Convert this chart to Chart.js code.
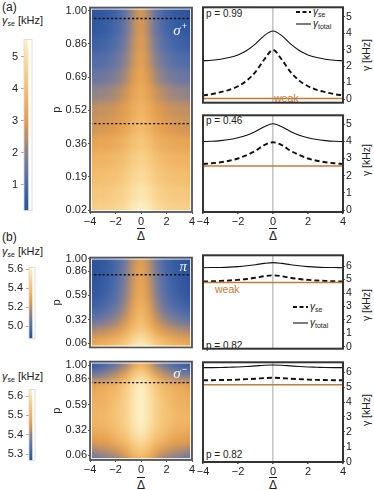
<!DOCTYPE html>
<html lang="en">
<head>
<meta charset="UTF-8">
<title>Spin-exchange broadening maps</title>
<script src="https://cdn.jsdelivr.net/npm/chart.js@4.4.0/dist/chart.umd.min.js"></script>
<style>
  body { margin: 0; background: #fff; }
  #fig { position: relative; width: 374px; height: 490px; overflow: hidden;
         font-family: "Liberation Sans", Arial, sans-serif; color: #222; }
  #fig canvas { position: absolute; }
  .lbl { position: absolute; white-space: nowrap; line-height: 1; font-size: 10px; }
  .lbl sub { font-size: 7px; vertical-align: -2px; line-height: 0; }
  .weak { color: #c07d3a; font-size: 10.5px; }
  .ytl { transform: translate(-50%, -50%) rotate(-90deg); font-size: 10.5px; }
  .dl { transform: translateX(-50%); font-size: 12px; text-decoration: overline; }
  .leg svg { vertical-align: middle; margin-right: 2px; }
</style>
</head>
<body>
<div id="fig">
  <div class="lbl" style="left:2px;top:1px;font-size:12px">(a)</div>
  <div class="lbl" style="left:2px;top:15px;font-size:11px"><i>γ</i><sub>se</sub> [kHz]</div>
  <div class="lbl" style="left:2px;top:231px;font-size:12px">(b)</div>
  <div class="lbl" style="left:2px;top:246px;font-size:11px"><i>γ</i><sub>se</sub> [kHz]</div>
  <div class="lbl" style="left:2px;top:371px;font-size:11px"><i>γ</i><sub>se</sub> [kHz]</div>

  <div class="lbl" style="left:206px;top:9px">p = 0.99</div>
  <div class="lbl" style="left:206px;top:116px">p = 0.46</div>
  <div class="lbl" style="left:206px;top:341px">p = 0.82</div>
  <div class="lbl" style="left:206px;top:450px">p = 0.82</div>
  <div class="lbl weak" style="left:274px;top:93px">weak</div>
  <div class="lbl weak" style="left:215px;top:284px">weak</div>

  <div class="lbl leg" style="left:296px;top:7px"><svg width="15" height="4"><line x1="0" y1="2" x2="15" y2="2" stroke="#111" stroke-width="1.8" stroke-dasharray="4,2.5"/></svg><i>γ</i><sub>se</sub></div>
  <div class="lbl leg" style="left:296px;top:19px"><svg width="15" height="4"><line x1="0" y1="2" x2="15" y2="2" stroke="#111" stroke-width="1.1"/></svg><i>γ</i><sub>total</sub></div>
  <div class="lbl leg" style="left:293px;top:302px"><svg width="15" height="4"><line x1="0" y1="2" x2="15" y2="2" stroke="#111" stroke-width="1.8" stroke-dasharray="4,2.5"/></svg><i>γ</i><sub>se</sub></div>
  <div class="lbl leg" style="left:293px;top:318px"><svg width="15" height="4"><line x1="0" y1="2" x2="15" y2="2" stroke="#111" stroke-width="1.1"/></svg><i>γ</i><sub>total</sub></div>

  <div class="lbl ytl" style="left:366px;top:55px">γ [kHz]</div>
  <div class="lbl ytl" style="left:366px;top:160px">γ [kHz]</div>
  <div class="lbl ytl" style="left:366px;top:305px">γ [kHz]</div>
  <div class="lbl ytl" style="left:366px;top:410px">γ [kHz]</div>

  <div class="lbl dl" style="left:141px;top:230px">Δ</div>
  <div class="lbl dl" style="left:273px;top:230px">Δ</div>
  <div class="lbl dl" style="left:141px;top:479px">Δ</div>
  <div class="lbl dl" style="left:273px;top:479px">Δ</div>
</div>

<script>
// ---- data ----
const deltas = [-4, -3.5, -3, -2.5, -2, -1.5, -1, -0.5, 0, 0.5, 1, 1.5, 2, 2.5, 3, 3.5, 4];

// line cuts, gamma in kHz at each delta
const seA1  = [0.22, 0.3, 0.42, 0.56, 0.78, 1.12, 1.65, 2.4, 2.98, 2.4, 1.65, 1.12, 0.78, 0.56, 0.42, 0.3, 0.22];
const totA1 = [2.32, 2.36, 2.42, 2.52, 2.68, 2.95, 3.35, 3.85, 4.13, 3.85, 3.35, 2.95, 2.68, 2.52, 2.42, 2.36, 2.32];
const weakA1 = 0.04;
const seA2  = [2.68, 2.72, 2.78, 2.87, 3.0, 3.2, 3.45, 3.78, 3.94, 3.78, 3.45, 3.2, 3.0, 2.87, 2.78, 2.72, 2.68];
const totA2 = [3.98, 4.0, 4.04, 4.1, 4.2, 4.35, 4.57, 4.85, 5.02, 4.85, 4.57, 4.35, 4.2, 4.1, 4.04, 4.0, 3.98];
const weakA2 = 2.57;
const seB1  = [4.86, 4.87, 4.9, 4.93, 4.98, 5.04, 5.13, 5.25, 5.31, 5.25, 5.13, 5.04, 4.98, 4.93, 4.9, 4.87, 4.86];
const totB1 = [5.88, 5.89, 5.9, 5.92, 5.96, 6.02, 6.1, 6.2, 6.26, 6.2, 6.1, 6.02, 5.96, 5.92, 5.9, 5.89, 5.88];
const weakB1 = 4.78;
const seB2  = [5.46, 5.46, 5.47, 5.48, 5.5, 5.53, 5.56, 5.6, 5.63, 5.6, 5.56, 5.53, 5.5, 5.48, 5.47, 5.46, 5.46];
const totB2 = [6.3, 6.3, 6.31, 6.33, 6.35, 6.38, 6.42, 6.46, 6.48, 6.46, 6.42, 6.38, 6.35, 6.33, 6.31, 6.3, 6.3];
const weakB2 = 5.16;
const gammaTicksA = [0, 1, 2, 3, 4, 5];
const gammaTicksB = [0, 1, 2, 3, 4, 5, 6];

// maps: rows are symmetric in delta, values given for delta = 0, 0.5, ... 4
// (a) sigma+ : rows on the tick index axis (0 -> p 0.02 ... 6 -> p 1.00)
const pTickLabelsA = ['0.02', '0.19', '0.36', '0.52', '0.69', '0.86', '1.00'];
const rowsA = [0, 0.5, 1, 1.5, 2, 2.5, 3, 3.5, 4, 4.5, 5, 5.5, 6];
const mapA = [
  [5.5, 5.29, 5.0, 4.8, 4.66, 4.58, 4.52, 4.49, 4.45],
  [5.25, 5.04, 4.75, 4.55, 4.41, 4.33, 4.27, 4.24, 4.2],
  [4.95, 4.74, 4.45, 4.25, 4.11, 4.03, 3.97, 3.94, 3.9],
  [4.65, 4.44, 4.15, 3.95, 3.81, 3.73, 3.67, 3.64, 3.6],
  [4.3, 4.08, 3.77, 3.56, 3.42, 3.33, 3.28, 3.24, 3.2],
  [3.97, 3.72, 3.37, 3.13, 2.97, 2.87, 2.81, 2.76, 2.72],
  [3.75, 3.5, 3.15, 2.91, 2.75, 2.65, 2.59, 2.54, 2.5],
  [3.55, 3.24, 2.81, 2.51, 2.31, 2.19, 2.11, 2.05, 2.0],
  [3.35, 2.97, 2.44, 2.08, 1.83, 1.68, 1.58, 1.52, 1.45],
  [3.2, 2.76, 2.14, 1.73, 1.44, 1.26, 1.15, 1.08, 1.0],
  [3.1, 2.6, 1.9, 1.43, 1.1, 0.9, 0.78, 0.69, 0.6],
  [3.0, 2.46, 1.71, 1.2, 0.86, 0.64, 0.51, 0.41, 0.32],
  [2.95, 2.4, 1.63, 1.11, 0.75, 0.53, 0.39, 0.3, 0.2]
];
const cutsA = [5.76, 2.6];          // p = 0.99 and p = 0.46 on the index axis
const barA = [0.19, 5.54];
const barTicksA = [1, 2, 3, 4, 5];

// (b) pi and sigma- : rows in p
const pTicksB = [0.06, 0.32, 0.59, 0.86, 1.0];
const rowsB = [0.02, 0.1, 0.2, 0.3, 0.4, 0.5, 0.6, 0.7, 0.8, 0.9, 1.0];
const mapPi = [
  [5.61, 5.57, 5.49, 5.44, 5.4, 5.37, 5.35, 5.33, 5.32],
  [5.55, 5.51, 5.43, 5.38, 5.34, 5.31, 5.29, 5.27, 5.26],
  [5.46, 5.41, 5.34, 5.27, 5.23, 5.2, 5.18, 5.17, 5.15],
  [5.41, 5.35, 5.26, 5.19, 5.14, 5.1, 5.08, 5.06, 5.04],
  [5.38, 5.32, 5.22, 5.13, 5.08, 5.04, 5.01, 4.99, 4.97],
  [5.35, 5.29, 5.18, 5.09, 5.03, 4.99, 4.96, 4.94, 4.92],
  [5.33, 5.26, 5.15, 5.07, 5.0, 4.96, 4.93, 4.91, 4.89],
  [5.32, 5.25, 5.14, 5.05, 4.99, 4.95, 4.92, 4.89, 4.87],
  [5.31, 5.24, 5.13, 5.04, 4.98, 4.94, 4.91, 4.88, 4.86],
  [5.29, 5.23, 5.12, 5.03, 4.97, 4.93, 4.9, 4.88, 4.86],
  [5.27, 5.21, 5.11, 5.02, 4.97, 4.93, 4.9, 4.88, 4.86]
];
const mapSm = [
  [5.51, 5.49, 5.45, 5.41, 5.39, 5.38, 5.37, 5.36, 5.35],
  [5.55, 5.53, 5.49, 5.46, 5.44, 5.43, 5.42, 5.41, 5.4],
  [5.59, 5.57, 5.53, 5.51, 5.49, 5.47, 5.46, 5.46, 5.45],
  [5.62, 5.6, 5.56, 5.54, 5.52, 5.5, 5.49, 5.49, 5.48],
  [5.63, 5.61, 5.58, 5.55, 5.53, 5.52, 5.51, 5.51, 5.5],
  [5.635, 5.61, 5.58, 5.55, 5.54, 5.52, 5.51, 5.51, 5.5],
  [5.635, 5.61, 5.58, 5.55, 5.53, 5.51, 5.5, 5.5, 5.49],
  [5.635, 5.61, 5.57, 5.54, 5.52, 5.51, 5.5, 5.49, 5.48],
  [5.63, 5.6, 5.56, 5.53, 5.5, 5.49, 5.48, 5.47, 5.46],
  [5.58, 5.55, 5.49, 5.45, 5.42, 5.4, 5.38, 5.37, 5.36],
  [5.51, 5.48, 5.42, 5.38, 5.35, 5.33, 5.31, 5.3, 5.29]
];
const cutB = 0.82;
const barPi = [4.87, 5.616];
const barTicksPi = [5.0, 5.2, 5.4, 5.6];
const barSm = [5.267, 5.634];
const barTicksSm = [5.3, 5.4, 5.5, 5.6];

// ---- colour map ----
const cmapStops = [
  [0, '#2c5399'], [0.07, '#365ca3'], [0.16, '#4e6caa'], [0.26, '#6d78a0'],
  [0.35, '#908489'], [0.43, '#bb8f66'], [0.52, '#e39c4c'], [0.7, '#f3bd6d'],
  [0.88, '#fbdb9b'], [1, '#fdf3cc']
];
function rgbOf(h) { return [1, 3, 5].map(i => parseInt(h.substr(i, 2), 16)); }
function cmap(v, lo, hi) {
  let t = Math.min(1, Math.max(0, (v - lo) / (hi - lo)));
  let k = 1;
  while (k < cmapStops.length - 1 && cmapStops[k][0] < t) k++;
  const [t0, c0] = cmapStops[k - 1], [t1, c1] = cmapStops[k];
  const f = (t - t0) / (t1 - t0), a = rgbOf(c0), b = rgbOf(c1);
  return 'rgb(' + a.map((x, i) => Math.round(x + (b[i] - x) * f)).join(',') + ')';
}

// ---- helpers ----
Chart.defaults.font.family = '"Liberation Sans", Arial, sans-serif';
Chart.defaults.color = '#222';
const minus = v => String(v).replace('-', '\u2212');
const pts = arr => arr.map((y, i) => ({ x: deltas[i], y }));

function place(left, top, w, h) {
  const c = document.createElement('canvas');
  c.width = w; c.height = h;
  c.style.left = left + 'px'; c.style.top = top + 'px';
  c.style.width = w + 'px'; c.style.height = h + 'px';
  document.getElementById('fig').appendChild(c);
  return c;
}

const frame = {
  id: 'frame',
  afterDraw(c, args, o) {
    const { ctx, chartArea: a } = c;
    ctx.save();
    ctx.strokeStyle = o.color || '#3a3a3a';
    ctx.lineWidth = o.width || 1.8;
    ctx.strokeRect(a.left, a.top, a.right - a.left, a.bottom - a.top);
    if (o.inner) {
      ctx.strokeStyle = 'rgba(255,255,255,0.85)';
      ctx.lineWidth = 1;
      ctx.strokeRect(a.left + 1.5, a.top + 1.5, a.right - a.left - 3, a.bottom - a.top - 3);
    }
    ctx.restore();
  }
};

// polarisation tag drawn in the map's top-right corner
const tag = {
  id: 'tag',
  afterDraw(c, args, o) {
    if (!o.text) return;
    const { ctx, chartArea: a } = c;
    const base = a.top + o.dy;
    ctx.save();
    ctx.fillStyle = '#f3f6fb';
    ctx.textAlign = 'right';
    ctx.textBaseline = 'alphabetic';
    const sup = o.sup || '';
    ctx.font = '9px "Liberation Sans", sans-serif';
    const sw = sup ? ctx.measureText(sup).width + 1 : 0;
    if (sup) ctx.fillText(sup, a.right - 5, base - 6);
    ctx.font = 'italic 15px "Liberation Serif", serif';
    ctx.fillText(o.text, a.right - 5 - sw, base);
    ctx.restore();
  }
};

// soften the cell grid of a map before the dashed cuts are drawn
function blurArea(chart, r) {
  const a = chart.chartArea, src = chart.canvas, ctx = chart.ctx;
  const x = Math.ceil(a.left), y = Math.ceil(a.top);
  const w = Math.floor(a.right) - x, h = Math.floor(a.bottom) - y;
  const pad = Math.ceil(r * 3);
  const tmp = document.createElement('canvas');
  tmp.width = w + 2 * pad; tmp.height = h + 2 * pad;
  const t = tmp.getContext('2d');
  t.drawImage(src, x, y, w, h, pad, pad, w, h);
  t.drawImage(src, x, y + 1, w, 1, pad, 0, w, pad);
  t.drawImage(src, x, y + h - 2, w, 1, pad, pad + h, w, pad);
  t.drawImage(tmp, pad + 1, 0, 1, tmp.height, 0, 0, pad, tmp.height);
  t.drawImage(tmp, pad + w - 2, 0, 1, tmp.height, pad + w, 0, pad, tmp.height);
  ctx.save();
  ctx.setTransform(1, 0, 0, 1, 0, 0);
  ctx.beginPath(); ctx.rect(a.left, a.top, a.right - a.left, a.bottom - a.top); ctx.clip();
  ctx.filter = 'blur(' + r + 'px)';
  ctx.drawImage(tmp, x - pad, y - pad);
  ctx.restore();
}
const smooth = {
  id: 'smooth',
  beforeDatasetsDraw(c) { c.$smoothed = false; },
  beforeDatasetDraw(c, args) {
    if (args.meta.type === 'line' && !c.$smoothed) { blurArea(c, 3.5); c.$smoothed = true; }
  }
};

function heatmap(canvas, rows, grid, range, cuts, yScale, pad, xHeight, tagOpts) {
  const bounds = rows.map((y, i) => {
    const lo = i === 0 ? y - (rows[1] - rows[0]) / 2 : (rows[i - 1] + y) / 2;
    const hi = i === rows.length - 1 ? y + (y - rows[i - 1]) / 2 : (y + rows[i + 1]) / 2;
    return [lo, hi];
  });
  const datasets = grid.map((half, i) => {
    const full = half.slice().reverse().concat(half.slice(1));
    return {
      type: 'bar', order: 1, grouped: false, borderWidth: 0,
      barPercentage: 1, categoryPercentage: 1,
      data: full.map((v, j) => ({ x: deltas[j], y: bounds[i] })),
      backgroundColor: full.map(v => cmap(v, range[0], range[1]))
    };
  });
  cuts.forEach(c => datasets.push({
    type: 'line', order: 0, data: [{ x: -4, y: c }, { x: 4, y: c }],
    borderColor: '#111', borderWidth: 1.4, borderDash: [2.2, 2], pointRadius: 0
  }));
  const showX = xHeight > 0;
  return new Chart(canvas, {
    type: 'bar',
    data: { datasets },
    plugins: [smooth, frame, tag],
    options: {
      responsive: false, animation: false, events: [],
      layout: { padding: pad },
      plugins: {
        legend: { display: false }, tooltip: { enabled: false },
        frame: { inner: true, color: '#555', width: 1.8 },
        tag: tagOpts
      },
      scales: {
        x: {
          type: 'linear', min: -4, max: 4, offset: false, display: showX,
          ticks: { stepSize: 2, font: { size: 11 }, padding: 1, callback: minus },
          grid: { drawOnChartArea: false, tickLength: 2, color: '#555', offset: false },
          border: { display: false },
          afterFit: s => { s.height = xHeight; }
        },
        y: Object.assign({
          position: 'left',
          grid: { drawOnChartArea: false, tickLength: 2, color: '#555' },
          border: { display: false },
          title: { display: true, text: 'p', font: { size: 11 }, padding: 0 },
          afterFit: s => { s.width = 40; }
        }, yScale)
      }
    }
  });
}

function linePlot(canvas, se, tot, weak, yMin, yMax, yTicks, pad, xHeight) {
  const showX = xHeight > 0;
  return new Chart(canvas, {
    type: 'line',
    data: { datasets: [
      { data: [{ x: -4, y: weak }, { x: 4, y: weak }], borderColor: '#c07d3a', borderWidth: 1.5 },
      { data: pts(tot), borderColor: '#111', borderWidth: 1.1, cubicInterpolationMode: 'monotone' },
      { data: pts(se), borderColor: '#111', borderWidth: 1.9, borderDash: [5, 3], cubicInterpolationMode: 'monotone' }
    ]},
    plugins: [frame],
    options: {
      responsive: false, animation: false, events: [],
      layout: { padding: pad },
      elements: { point: { radius: 0 } },
      plugins: { legend: { display: false }, tooltip: { enabled: false }, frame: { color: '#333', width: 2 } },
      scales: {
        x: {
          type: 'linear', min: -4, max: 4,
          ticks: { stepSize: 2, display: showX, font: { size: 11 }, padding: 1, callback: minus },
          grid: { color: c => (c.tick && c.tick.value === 0) ? '#c6c6c6' : 'rgba(0,0,0,0)', lineWidth: 1.6,
                  drawTicks: showX, tickLength: 2, tickColor: '#555' },
          border: { display: false },
          afterFit: s => { s.height = xHeight; }
        },
        y: {
          position: 'right', min: yMin, max: yMax,
          afterBuildTicks: s => { s.ticks = yTicks.map(v => ({ value: v })); },
          ticks: { font: { size: 10.5 }, padding: 1, autoSkip: false },
          grid: { drawOnChartArea: false, tickLength: 2, color: '#555' },
          border: { display: false },
          afterFit: s => { s.width = 31; }
        }
      }
    }
  });
}

function colorBar(canvas, range, ticks, digits, yWidth, pad) {
  return new Chart(canvas, {
    type: 'bar',
    data: { labels: [''], datasets: [{
      data: [range],
      barPercentage: 1, categoryPercentage: 1, borderWidth: 0,
      backgroundColor: ctx => {
        const a = ctx.chart.chartArea;
        if (!a) return '#999';
        const g = ctx.chart.ctx.createLinearGradient(0, a.bottom, 0, a.top);
        cmapStops.forEach(s => g.addColorStop(s[0], s[1]));
        return g;
      }
    }]},
    plugins: [frame],
    options: {
      responsive: false, animation: false, events: [],
      layout: { padding: pad },
      plugins: { legend: { display: false }, tooltip: { enabled: false }, frame: { color: '#d6d6d6', width: 0.8 } },
      scales: {
        x: { display: false, offset: false },
        y: {
          min: range[0], max: range[1],
          afterBuildTicks: s => { s.ticks = ticks.map(v => ({ value: v })); },
          ticks: { font: { size: 11 }, padding: 3, autoSkip: false, callback: v => v.toFixed(digits) },
          grid: { drawOnChartArea: false, tickLength: 3, color: '#aaa' },
          border: { display: false },
          afterFit: s => { s.width = yWidth; }
        }
      }
    }
  });
}

// ---- panel (a) ----
colorBar(place(0, 30, 45, 190), barA, barTicksA, 0, 24, { top: 7, right: 13, bottom: 5 });
heatmap(place(50, 0, 150, 245), rowsA, mapA, barA, cutsA, {
  min: -0.06, max: 6.09,
  afterBuildTicks: s => { s.ticks = pTickLabelsA.map((l, i) => ({ value: i })); },
  ticks: { font: { size: 11 }, padding: 1, autoSkip: false, callback: v => pTickLabelsA[v] }
}, { top: 4, right: 8 }, 33, { text: 'σ', sup: '+', dy: 27 });
linePlot(place(190, 0, 184, 110), seA1, totA1, weakA1, -0.22, 5.57, gammaTicksA, { left: 13, top: 2, bottom: 2 }, 0);
linePlot(place(190, 108, 184, 137), seA2, totA2, weakA2, -0.11, 5.51, gammaTicksA, { left: 13, top: 2 }, 33);

// ---- panel (b) ----
colorBar(place(0, 258, 45, 90), barPi, barTicksPi, 1, 29, { top: 7, right: 10, bottom: 5 });
colorBar(place(0, 380, 45, 90), barSm, barTicksSm, 1, 29, { top: 7, right: 10, bottom: 5 });
const pAxisB = (lo, hi) => ({
  min: lo, max: hi,
  afterBuildTicks: s => { s.ticks = pTicksB.map(v => ({ value: v })); },
  ticks: { font: { size: 11 }, padding: 1, autoSkip: false, callback: v => v.toFixed(2) }
});
heatmap(place(50, 250, 150, 105), rowsB, mapPi, barPi, [cutB], pAxisB(0.013, 1.01), { top: 3, right: 8, bottom: 2 }, 0, { text: 'π', sup: '', dy: 13 });
heatmap(place(50, 354, 150, 136), rowsB, mapSm, barSm, [cutB], pAxisB(0.01, 1.04), { top: 2, right: 8 }, 30, { text: 'σ', sup: '\u2212', dy: 16 });
linePlot(place(190, 248, 184, 108), seB1, totB1, weakB1, -0.13, 6.8, gammaTicksB, { left: 13, top: 2, bottom: 2 }, 0);
linePlot(place(190, 355, 184, 135), seB2, totB2, weakB2, -0.02, 6.66, gammaTicksB, { left: 13, top: 2 }, 28);
</script>
</body>
</html>
